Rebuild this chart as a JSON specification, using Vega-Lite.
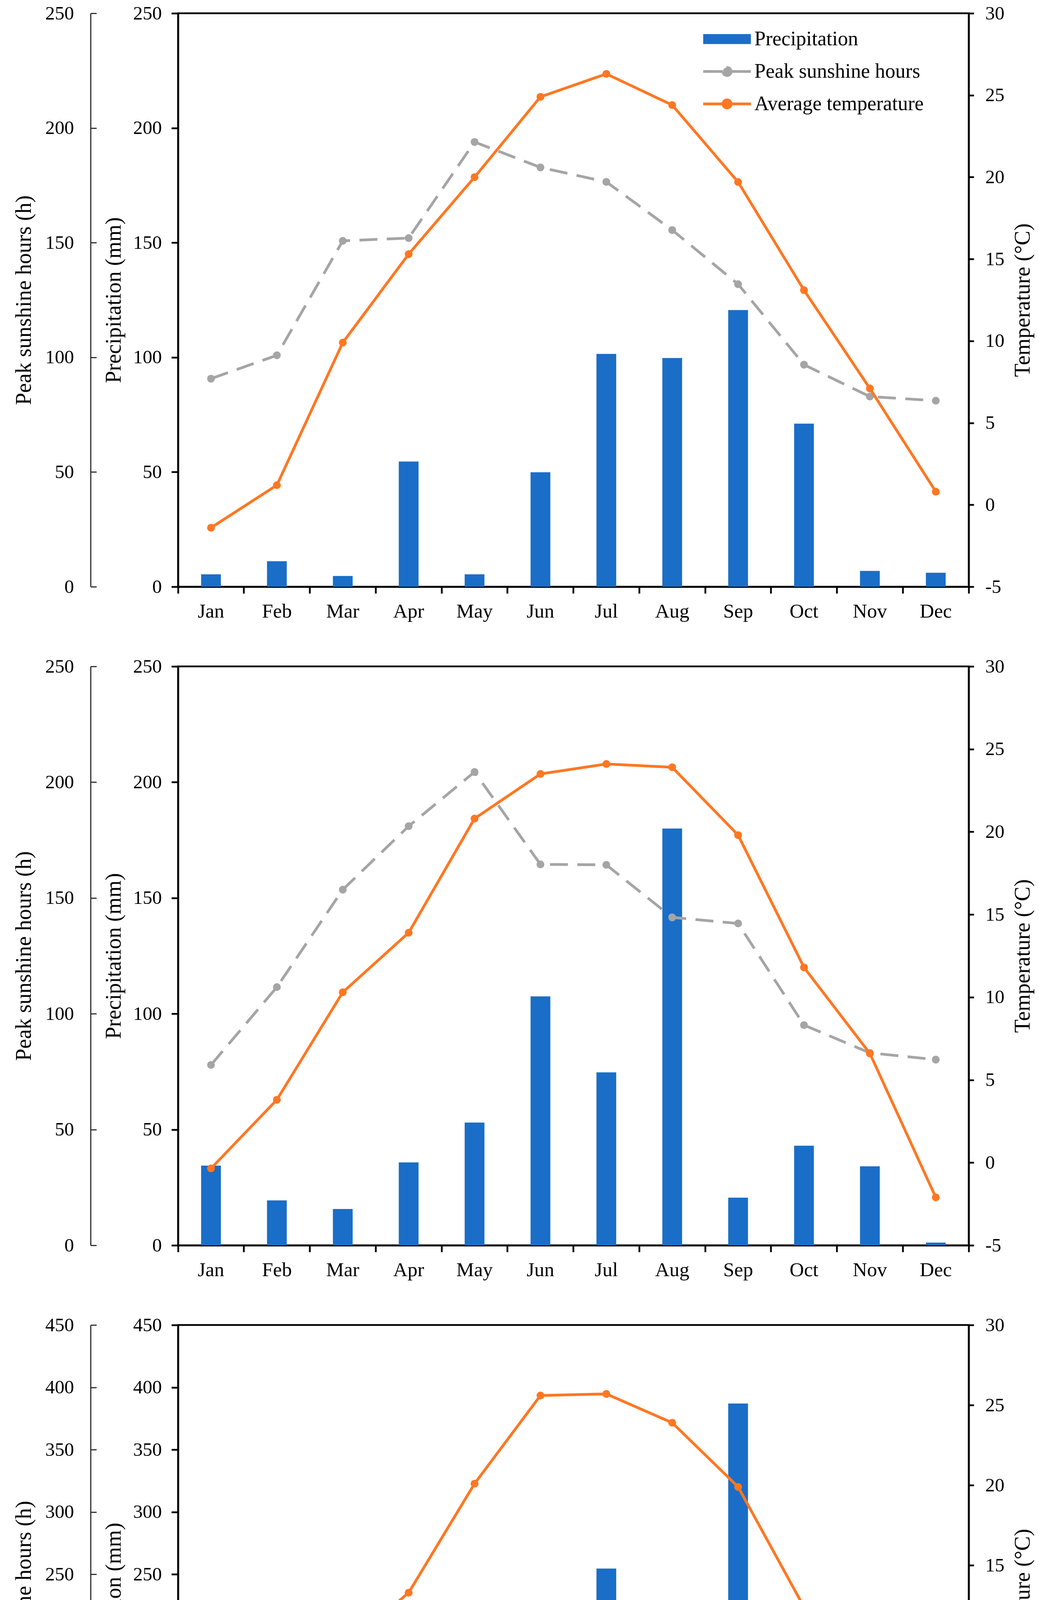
{
  "$schema": "https://vega.github.io/schema/vega-lite/v6.json",
  "padding": {"left": 31, "top": 7, "right": 0, "bottom": 0},
  "background": "white",
  "datasets": {
    "p1": [
      {"month": "Jan", "precip": 5.4, "sunshine": 90.7, "temp": -1.4},
      {"month": "Feb", "precip": 11.1, "sunshine": 100.9, "temp": 1.2},
      {"month": "Mar", "precip": 4.7, "sunshine": 150.8, "temp": 9.9},
      {"month": "Apr", "precip": 54.6, "sunshine": 152.0, "temp": 15.3},
      {"month": "May", "precip": 5.4, "sunshine": 193.9, "temp": 20.0},
      {"month": "Jun", "precip": 49.9, "sunshine": 182.8, "temp": 24.9},
      {"month": "Jul", "precip": 101.5, "sunshine": 176.5, "temp": 26.3},
      {"month": "Aug", "precip": 99.7, "sunshine": 155.5, "temp": 24.4},
      {"month": "Sep", "precip": 120.6, "sunshine": 131.9, "temp": 19.7},
      {"month": "Oct", "precip": 71.1, "sunshine": 96.8, "temp": 13.1},
      {"month": "Nov", "precip": 6.9, "sunshine": 82.9, "temp": 7.1},
      {"month": "Dec", "precip": 6.1, "sunshine": 81.1, "temp": 0.8}
    ],
    "p2": [
      {"month": "Jan", "precip": 34.4, "sunshine": 77.9, "temp": -0.35},
      {"month": "Feb", "precip": 19.4, "sunshine": 111.5, "temp": 3.8},
      {"month": "Mar", "precip": 15.7, "sunshine": 153.6, "temp": 10.3},
      {"month": "Apr", "precip": 35.8, "sunshine": 181.0, "temp": 13.9},
      {"month": "May", "precip": 53.0, "sunshine": 204.4, "temp": 20.8},
      {"month": "Jun", "precip": 107.5, "sunshine": 164.5, "temp": 23.5},
      {"month": "Jul", "precip": 74.7, "sunshine": 164.3, "temp": 24.1},
      {"month": "Aug", "precip": 180.0, "sunshine": 141.6, "temp": 23.9},
      {"month": "Sep", "precip": 20.6, "sunshine": 139.0, "temp": 19.8},
      {"month": "Oct", "precip": 43.0, "sunshine": 95.1, "temp": 11.8},
      {"month": "Nov", "precip": 34.1, "sunshine": 83.1, "temp": 6.6},
      {"month": "Dec", "precip": 1.2, "sunshine": 80.2, "temp": -2.1}
    ],
    "p3": [
      {"month": "Jan", "precip": 4.5, "sunshine": 98.2, "temp": -1.0},
      {"month": "Feb", "precip": 38.7, "sunshine": 104.6, "temp": 5.1},
      {"month": "Mar", "precip": 23.7, "sunshine": 134.3, "temp": 9.8},
      {"month": "Apr", "precip": 35.2, "sunshine": 141.7, "temp": 13.3},
      {"month": "May", "precip": 42.9, "sunshine": 201.2, "temp": 20.1},
      {"month": "Jun", "precip": 41.3, "sunshine": 180.4, "temp": 25.6},
      {"month": "Jul", "precip": 254.6, "sunshine": 166.9, "temp": 25.7},
      {"month": "Aug", "precip": 117.0, "sunshine": 159.6, "temp": 23.9},
      {"month": "Sep", "precip": 387.0, "sunshine": 109.0, "temp": 19.9},
      {"month": "Oct", "precip": 144.5, "sunshine": 86.0, "temp": 12.4},
      {"month": "Nov", "precip": 18.2, "sunshine": 91.5, "temp": 5.9},
      {"month": "Dec", "precip": 10.2, "sunshine": 80.3, "temp": 0.6}
    ]
  },
  "vconcat": [
    {
      "width": 2025,
      "height": 1468,
      "data": {"name": "p1"},
      "encoding": {
        "x": {
          "field": "month", "type": "nominal", "sort": null,
          "scale": {"paddingInner": 0, "paddingOuter": 0},
          "axis": {"title": null, "labelAngle": 0, "bandPosition": 1, "tickExtra": true, "tickSize": 17, "labelPadding": 21, "labelFontSize": 51}
        }
      },
      "layer": [
        {
          "mark": {"type": "bar", "width": {"band": 0.3}},
          "encoding": {
            "y": {"field": "precip", "type": "quantitative", "scale": {"domain": [0, 250]},
              "axis": {"orient": "left", "values": [0, 50, 100, 150, 200, 250], "tickSize": 17, "labelPadding": 25, "titlePadding": 20, "title": "Precipitation (mm)"}},
            "color": {
              "datum": "Precipitation", "type": "nominal",
              "scale": {"domain": ["Precipitation", "Peak sunshine hours", "Average temperature"], "range": ["#1A6EC7", "#A5A5A5", "#FF7722"]},
              "legend": {
                "orient": "none", "legendX": 1380, "legendY": 40, "title": null, "padding": 0,
                "symbolSize": 6889, "labelOffset": 44, "rowPadding": 31, "labelLimit": 0,
                "labelFont": "Liberation Serif", "labelFontSize": 52, "labelColor": "black",
                "encode": {
                  "symbols": {
                    "update": {
                      "shape": {"signal": "datum.value === 'Precipitation' ? 'M-1.47,-0.31H1.47V0.31H-1.47Z' : 'M-1.47,0H1.47M-0.25,0A0.25,0.25,0,1,0,0.25,0A0.25,0.25,0,1,0,-0.25,0Z'"},
                      "fill": {"signal": "datum.value === 'Precipitation' ? '#1A6EC7' : datum.value === 'Peak sunshine hours' ? '#A5A5A5' : '#FF7722'"},
                      "stroke": {"signal": "datum.value === 'Precipitation' ? '#1A6EC7' : datum.value === 'Peak sunshine hours' ? '#A5A5A5' : '#FF7722'"},
                      "strokeWidth": {"signal": "datum.value === 'Precipitation' ? 0 : 7"},
                      "strokeDash": {"signal": "datum.value === 'Peak sunshine hours' ? [50, 22] : []"},
                      "opacity": {"value": 1}
                    }
                  }
                }
              }
            }
          }
        },
        {
          "encoding": {
            "y": {"field": "sunshine", "type": "quantitative", "scale": {"domain": [0, 250]},
              "axis": {"orient": "left", "offset": 224, "values": [0, 50, 100, 150, 200, 250], "tickSize": -15, "labelPadding": 58, "domainWidth": 3, "tickWidth": 3, "domainColor": "#333", "tickColor": "#333", "titlePadding": 25, "title": "Peak sunshine hours (h)"}}
          },
          "layer": [
            {"mark": {"type": "line", "color": "#A5A5A5", "strokeWidth": 7, "strokeDash": [46, 24]}},
            {"mark": {"type": "point", "filled": true, "color": "#A5A5A5", "size": 400, "opacity": 1}}
          ]
        },
        {
          "encoding": {
            "y": {"field": "temp", "type": "quantitative", "scale": {"domain": [-5, 30]},
              "axis": {"orient": "right", "values": [-5, 0, 5, 10, 15, 20, 25, 30], "labelExpr": "'' + datum.value", "tickSize": 13, "labelPadding": 29, "titlePadding": 20, "titleAngle": 270, "titleBaseline": "top", "title": "Temperature (°C)"}}
          },
          "layer": [
            {"mark": {"type": "line", "color": "#FF7722", "strokeWidth": 7}},
            {"mark": {"type": "point", "filled": true, "color": "#FF7722", "size": 400, "opacity": 1}}
          ]
        }
      ],
      "resolve": {"scale": {"y": "independent"}}
    },
    {
      "width": 2025,
      "height": 1482,
      "data": {"name": "p2"},
      "encoding": {
        "x": {
          "field": "month", "type": "nominal", "sort": null,
          "scale": {"paddingInner": 0, "paddingOuter": 0},
          "axis": {"title": null, "labelAngle": 0, "bandPosition": 1, "tickExtra": true, "tickSize": 17, "labelPadding": 21, "labelFontSize": 51}
        }
      },
      "layer": [
        {
          "mark": {"type": "bar", "width": {"band": 0.3}, "color": "#1A6EC7"},
          "encoding": {
            "y": {"field": "precip", "type": "quantitative", "scale": {"domain": [0, 250]},
              "axis": {"orient": "left", "values": [0, 50, 100, 150, 200, 250], "tickSize": 17, "labelPadding": 25, "titlePadding": 20, "title": "Precipitation (mm)"}}
          }
        },
        {
          "encoding": {
            "y": {"field": "sunshine", "type": "quantitative", "scale": {"domain": [0, 250]},
              "axis": {"orient": "left", "offset": 224, "values": [0, 50, 100, 150, 200, 250], "tickSize": -15, "labelPadding": 58, "domainWidth": 3, "tickWidth": 3, "domainColor": "#333", "tickColor": "#333", "titlePadding": 25, "title": "Peak sunshine hours (h)"}}
          },
          "layer": [
            {"mark": {"type": "line", "color": "#A5A5A5", "strokeWidth": 7, "strokeDash": [46, 24]}},
            {"mark": {"type": "point", "filled": true, "color": "#A5A5A5", "size": 400, "opacity": 1}}
          ]
        },
        {
          "encoding": {
            "y": {"field": "temp", "type": "quantitative", "scale": {"domain": [-5, 30]},
              "axis": {"orient": "right", "values": [-5, 0, 5, 10, 15, 20, 25, 30], "labelExpr": "'' + datum.value", "tickSize": 13, "labelPadding": 29, "titlePadding": 20, "titleAngle": 270, "titleBaseline": "top", "title": "Temperature (°C)"}}
          },
          "layer": [
            {"mark": {"type": "line", "color": "#FF7722", "strokeWidth": 7}},
            {"mark": {"type": "point", "filled": true, "color": "#FF7722", "size": 400, "opacity": 1}}
          ]
        }
      ],
      "resolve": {"scale": {"y": "independent"}}
    },
    {
      "width": 2025,
      "height": 1436,
      "data": {"name": "p3"},
      "encoding": {
        "x": {
          "field": "month", "type": "nominal", "sort": null,
          "scale": {"paddingInner": 0, "paddingOuter": 0},
          "axis": {"title": null, "labelAngle": 0, "bandPosition": 1, "tickExtra": true, "tickSize": 17, "labelPadding": 21, "labelFontSize": 51}
        }
      },
      "layer": [
        {
          "mark": {"type": "bar", "width": {"band": 0.3}, "color": "#1A6EC7"},
          "encoding": {
            "y": {"field": "precip", "type": "quantitative", "scale": {"domain": [0, 450]},
              "axis": {"orient": "left", "values": [0, 50, 100, 150, 200, 250, 300, 350, 400, 450], "tickSize": 17, "labelPadding": 25, "titlePadding": 20, "title": "Precipitation (mm)"}}
          }
        },
        {
          "encoding": {
            "y": {"field": "sunshine", "type": "quantitative", "scale": {"domain": [0, 450]},
              "axis": {"orient": "left", "offset": 224, "values": [0, 50, 100, 150, 200, 250, 300, 350, 400, 450], "tickSize": -15, "labelPadding": 58, "domainWidth": 3, "tickWidth": 3, "domainColor": "#333", "tickColor": "#333", "titlePadding": 25, "title": "Peak sunshine hours (h)"}}
          },
          "layer": [
            {"mark": {"type": "line", "color": "#A5A5A5", "strokeWidth": 7, "strokeDash": [46, 24]}},
            {"mark": {"type": "point", "filled": true, "color": "#A5A5A5", "size": 400, "opacity": 1}}
          ]
        },
        {
          "encoding": {
            "y": {"field": "temp", "type": "quantitative", "scale": {"domain": [-5, 30]},
              "axis": {"orient": "right", "values": [-5, 0, 5, 10, 15, 20, 25, 30], "labelExpr": "'' + datum.value", "tickSize": 13, "labelPadding": 29, "titlePadding": 20, "titleAngle": 270, "titleBaseline": "top", "title": "Temperature (°C)"}}
          },
          "layer": [
            {"mark": {"type": "line", "color": "#FF7722", "strokeWidth": 7}},
            {"mark": {"type": "point", "filled": true, "color": "#FF7722", "size": 400, "opacity": 1}}
          ]
        }
      ],
      "resolve": {"scale": {"y": "independent"}}
    }
  ],
  "spacing": 204,
  "bounds": "flush",
  "resolve": {"scale": {"color": "independent"}, "legend": {"color": "independent"}},
  "config": {
    "font": "Liberation Serif",
    "view": {"stroke": "black", "strokeWidth": 4.5},
    "axis": {
      "grid": false, "domainColor": "black", "domainWidth": 4.5, "tickColor": "black", "tickWidth": 4.5,
      "labelColor": "black", "labelFont": "Liberation Serif", "labelFontSize": 49,
      "titleFont": "Liberation Serif", "titleFontSize": 56, "titleFontWeight": "normal", "titleColor": "black"
    }
  }
}
